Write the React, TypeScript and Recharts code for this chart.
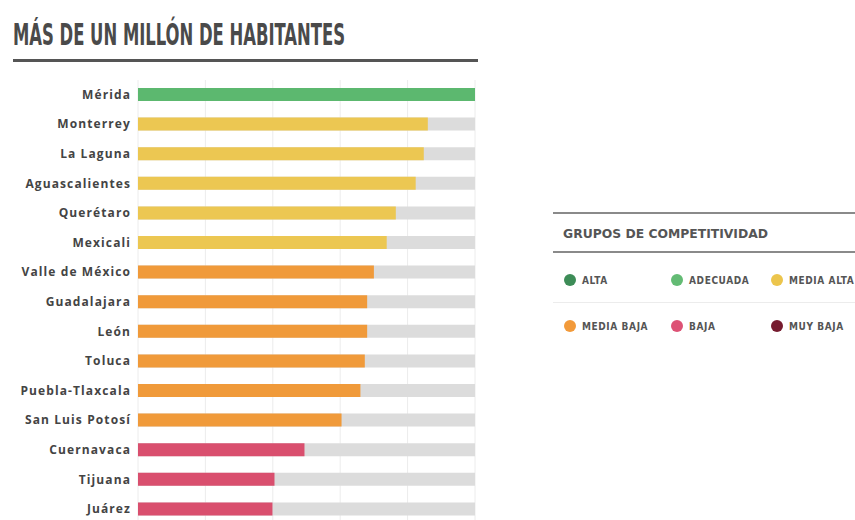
import { Bar, BarChart, CartesianGrid, Cell, XAxis, YAxis } from 'recharts';

const cities = [
  'Mérida', 'Monterrey', 'La Laguna', 'Aguascalientes', 'Querétaro', 'Mexicali',
  'Valle de México', 'Guadalajara', 'León', 'Toluca', 'Puebla-Tlaxcala',
  'San Luis Potosí', 'Cuernavaca', 'Tijuana', 'Juárez',
];
const scores = [100, 86, 84.8, 82.4, 76.5, 73.8, 70, 68, 68, 67.3, 66, 60.4, 49.4, 40.5, 39.9];
const groups = [
  'ADECUADA', 'MEDIA ALTA', 'MEDIA ALTA', 'MEDIA ALTA', 'MEDIA ALTA', 'MEDIA ALTA',
  'MEDIA BAJA', 'MEDIA BAJA', 'MEDIA BAJA', 'MEDIA BAJA', 'MEDIA BAJA', 'MEDIA BAJA',
  'BAJA', 'BAJA', 'BAJA',
];
const xTicks = [0, 20, 40, 60, 80, 100];

const legendGroups = ['ALTA', 'ADECUADA', 'MEDIA ALTA', 'MEDIA BAJA', 'BAJA', 'MUY BAJA'];
const legendColors = ['#3d8c57', '#63bb74', '#ecc54c', '#f29a3a', '#dd5275', '#761b2f'];
const barColors: Record<string, string> = {
  ALTA: '#3d8c57',
  ADECUADA: '#5cb86f',
  'MEDIA ALTA': '#ecc752',
  'MEDIA BAJA': '#f09a3a',
  BAJA: '#d94f6e',
  'MUY BAJA': '#761b2f',
};

const data = cities.map((city, i) => ({ city, score: scores[i], group: groups[i] }));

const condensed = '"Liberation Sans Narrow", "DejaVu Sans Condensed", sans-serif';

function CityTick({ y, payload }: any) {
  // labels right-aligned a few px left of the plot
  return (
    <text x={131} y={y} dy={4} textAnchor="end" fill="#444" fontFamily='"Open Sans", sans-serif'
      fontWeight={700} fontSize={12} letterSpacing={1.1}>
      {payload.value}
    </text>
  );
}

export default function App() {
  return (
    <div style={{ position: 'absolute', left: 0, top: 0, width: 855, height: 520, overflow: 'hidden', background: '#fff' }}>
      <svg width={855} height={520} style={{ position: 'absolute', left: 0, top: 0 }}>
        <text x={13} y={45} fontFamily={condensed} fontWeight={700} fontSize={31} fill="#4a4a4a"
          textLength={332} lengthAdjust="spacingAndGlyphs">
          MÁS DE UN MILLÓN DE HABITANTES
        </text>
        <rect x={13} y={59} width={465} height={3} fill="#555" />

        <rect x={553} y={212} width={302} height={2} fill="#8a8a8a" />
        <text x={563} y={238} fontFamily={condensed} fontWeight={700} fontSize={13} fill="#555"
          textLength={205} lengthAdjust="spacingAndGlyphs">
          GRUPOS DE COMPETITIVIDAD
        </text>
        <rect x={553} y={251} width={302} height={2} fill="#8a8a8a" />
        <rect x={553} y={302} width={302} height={1} fill="#ececec" />
        {legendGroups.map((g, i) => {
          const col = i % 3;
          const row = Math.floor(i / 3);
          const cx = [570, 677, 777][col];
          const cy = [280, 326][row];
          return (
            <g key={g}>
              <circle cx={cx} cy={cy} r={6} fill={legendColors[i]} />
              <text x={cx + 12} y={cy + 4} fontFamily={condensed} fontWeight={700} fontSize={10} fill="#555" letterSpacing={0.6}>
                {g}
              </text>
            </g>
          );
        })}
      </svg>
      <div style={{ position: 'absolute', left: 0, top: 0 }}>
        <BarChart width={480} height={530} data={data} layout="vertical"
          margin={{ top: 80, right: 5, bottom: 6, left: 0 }} barCategoryGap={8}>
          <CartesianGrid horizontal={false} stroke="#ececec" />
          <XAxis type="number" domain={[0, 100]} ticks={xTicks} hide />
          <YAxis type="category" dataKey="city" width={138} axisLine={false} tickLine={false}
            tick={<CityTick />} interval={0} />
          <Bar dataKey="score" barSize={13} background={{ fill: '#dcdcdc' }} isAnimationActive={false}>
            {data.map((d) => (
              <Cell key={d.city} fill={barColors[d.group]} />
            ))}
          </Bar>
        </BarChart>
      </div>
    </div>
  );
}
